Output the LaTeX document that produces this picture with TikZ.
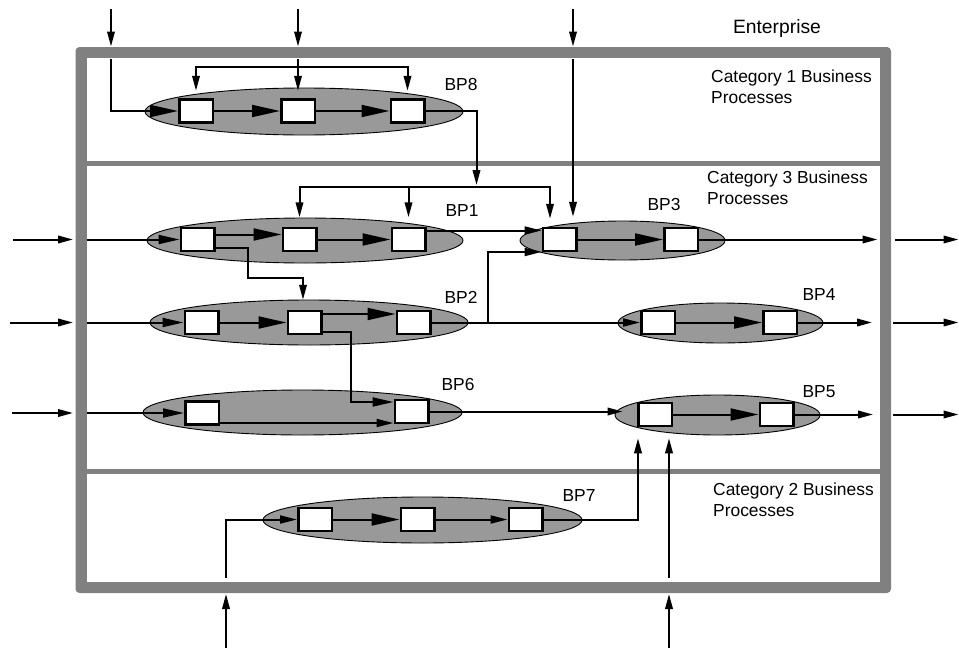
\documentclass[tikz,border=0pt]{standalone}
\usepackage{fontspec}
\setmainfont{Liberation Sans}
\usetikzlibrary{arrows.meta,shapes.geometric,calc}
\definecolor{framegray}{RGB}{128,128,128}
\definecolor{bpfill}{RGB}{153,153,153}
\tikzset{
  bigtip/.tip={Triangle[length=28pt,width=12pt]},
  intip/.tip={Triangle[length=21pt,width=9pt]},
  midtip/.tip={Triangle[length=17pt,width=8pt]},
  smalltip/.tip={Triangle[length=15pt,width=7.5pt]},
  conn/.style={line width=2pt, draw=black},
  bpellipse/.style={ellipse, draw=black, line width=0.9pt, fill=bpfill, inner sep=0pt},
  actbox/.style={rectangle, draw=black, line width=2.5pt, fill=white, minimum width=33.5pt, minimum height=23pt, inner sep=0pt},
  lbl/.style={font=\fontsize{17.4}{21}\selectfont, inner sep=0pt},
  catlbl/.style={lbl, align=left, anchor=north west},
}
\begin{document}
\begin{tikzpicture}[x=1pt,y=-1pt]
\fill[white] (0,0) rectangle (959,648);
\useasboundingbox (0,0) rectangle (959,648);

% enterprise frame and category dividers
\fill[framegray, rounded corners=4pt] (75.5,47) rectangle (891,593);
\fill[white] (86.5,58) rectangle (880,582);
\fill[framegray] (86.5,160.5) rectangle (880,165.5);
\fill[framegray] (86.5,468.5) rectangle (880,474);

% texts
\node[lbl, font=\fontsize{19.3}{23}\selectfont, anchor=base] (enterprise) at (777,33) {Enterprise};
\node[catlbl] (cat1) at (711,69.5) {Category 1 Business\\Processes};
\node[catlbl] (cat3) at (707,170.5) {Category 3 Business\\Processes};
\node[catlbl] (cat2) at (713,482.5) {Category 2 Business\\Processes};

% ellipses
\node[bpellipse, minimum width=318pt, minimum height=47pt] (e8) at (304,111.5) {};
\node[bpellipse, minimum width=316pt, minimum height=45pt] (e1) at (305,240.5) {};
\node[bpellipse, minimum width=318pt, minimum height=45pt] (e2) at (309,322.5) {};
\node[bpellipse, minimum width=319pt, minimum height=45pt] (e6) at (302.5,412.5) {};
\node[bpellipse, minimum width=205pt, minimum height=39pt] (e3) at (622.5,240.5) {};
\node[bpellipse, minimum width=205pt, minimum height=40pt] (e4) at (720.5,323) {};
\node[bpellipse, minimum width=205pt, minimum height=40pt] (e5) at (717.5,415) {};
\node[bpellipse, minimum width=319pt, minimum height=46pt] (e7) at (422.5,520) {};

% BP labels
\node[lbl] (l8) at (461,85) {BP8};
\node[lbl] (l1) at (462,211) {BP1};
\node[lbl] (l2) at (461,297) {BP2};
\node[lbl] (l6) at (458,385) {BP6};
\node[lbl] (l3) at (664,205) {BP3};
\node[lbl] (l4) at (819,295) {BP4};
\node[lbl] (l5) at (819,392) {BP5};
\node[lbl] (l7) at (579,496) {BP7};

% activity boxes
\node[actbox] (b81) at (196,111) {};
\node[actbox] (b82) at (298,111) {};
\node[actbox] (b83) at (407.5,111) {};
\node[actbox] (b11) at (197.5,239.5) {};
\node[actbox] (b12) at (299.5,239.5) {};
\node[actbox] (b13) at (408.5,239.5) {};
\node[actbox] (b21) at (201.5,322.5) {};
\node[actbox] (b22) at (304.5,322.5) {};
\node[actbox] (b23) at (413.5,322.5) {};
\node[actbox] (b61) at (202,413) {};
\node[actbox] (b62) at (411.5,411.5) {};
\node[actbox] (b31) at (559.5,239.5) {};
\node[actbox] (b32) at (681,239.5) {};
\node[actbox] (b41) at (658,322.5) {};
\node[actbox] (b42) at (780,322.5) {};
\node[actbox] (b51) at (655,414.5) {};
\node[actbox] (b52) at (776.5,414.5) {};
\node[actbox] (b71) at (315,519.5) {};
\node[actbox] (b72) at (417.5,519.5) {};
\node[actbox] (b73) at (525.5,519.5) {};

% ---- external inputs at the top
\coordinate (tA0) at (111,9);   \coordinate (tA1) at (111,46.5);
\coordinate (tB0) at (298,9);   \coordinate (tB1) at (298,46.5);
\coordinate (tC0) at (573,9);   \coordinate (tC1) at (573,46.5);
\draw[conn,-smalltip] (tA0) -- (tA1);
\draw[conn,-smalltip] (tB0) -- (tB1);
\draw[conn,-smalltip] (tC0) -- (tC1);
\coordinate (iA) at (111,59);
\coordinate (iB) at (298,59);
\coordinate (iC) at (573,59);

% ---- BP8
\draw[conn,-bigtip] (iA) |- (b81.west);
\draw[conn,-smalltip] (iB) -- ([yshift=7.5pt]b82.north);
\draw[conn,smalltip-smalltip] ([yshift=7.5pt]b81.north) -- ++(0,-24) -| ([yshift=7.5pt]b83.north);
\draw[conn,-bigtip] (b81) -- (b82);
\draw[conn,-bigtip] (b82) -- (b83);
\coordinate (j8) at (476.5,185);
\draw[conn,-smalltip] (b83.east) -| (j8);

% distribution bar into BP1 / BP3
\coordinate (bar) at (476.5,187);
\draw[conn,smalltip-smalltip] ([yshift=9.5pt]b12.north) |- (bar) -| ([xshift=-9.5pt,yshift=8pt]b31.north);
\draw[conn,smalltip-] ([yshift=9.5pt]b13.north) -- ++(0,-31);
\draw[conn,-smalltip] (iC) -- ([xshift=13.5pt,yshift=10pt]b31.north);

% ---- left external inputs
\coordinate (x1a) at (13,239.5);  \coordinate (x1b) at (73,239.5);  \coordinate (n1) at (86.5,239.5);
\coordinate (x2a) at (10,322.5);  \coordinate (x2b) at (73,322.5);  \coordinate (n2) at (86.5,322.5);
\coordinate (x6a) at (12,413);    \coordinate (x6b) at (73,413);    \coordinate (n6) at (86.5,413);
\draw[conn,-smalltip] (x1a) -- (x1b);
\draw[conn,-smalltip] (x2a) -- (x2b);
\draw[conn,-smalltip] (x6a) -- (x6b);
\draw[conn,-intip] (n1) -- (b11.west);
\draw[conn,-intip] (n2) -- (b21.west);
\draw[conn,-intip] (n6) -- (b61.west);

% ---- BP1
\draw[conn,-bigtip] ([yshift=5pt]b11.east) -- ([yshift=5pt]b11.east -| b12.west);
\draw[conn,-smalltip] ([yshift=-8pt]b11.east) -| (248,278) -| ([xshift=-1.5pt,yshift=10pt]b22.north);
\draw[conn,-bigtip] (b12) -- (b13);
\draw[conn,-midtip] ([yshift=9pt]b13.east) -- ([yshift=9pt]b13.east -| b31.west);

% ---- BP2
\draw[conn,-bigtip] (b21) -- (b22);
\draw[conn,-bigtip] ([yshift=8.5pt]b22.east) -- ([yshift=8.5pt]b22.east -| b23.west);
\draw[conn,-intip] ([yshift=-9.5pt]b22.east) -- ++(28,0) |- ([yshift=9.5pt]b62.west);
\draw[conn,-midtip] (b23.east) -- (b41.west);
\coordinate (br2) at (488,322.5);
\draw[conn,-midtip] (br2) |- ([yshift=-12.5pt]b31.west);

% ---- BP6
\draw[conn,-midtip] ([yshift=-10pt]b61.east) -- ([yshift=-10pt]b61.east -| b62.west);
\path ([xshift=8pt]e5.west) coordinate (e5in);
\draw[conn,-smalltip] (b62.east) -- (b62.east -| e5in);

% ---- BP3, BP4, BP5 and outputs
\draw[conn,-bigtip] (b31) -- (b32);
\draw[conn,-bigtip] (b41) -- (b42);
\draw[conn,-bigtip] (b51) -- (b52);
\coordinate (o3) at (877.5,239.5); \coordinate (o3a) at (895,239.5); \coordinate (o3b) at (958.5,239.5);
\coordinate (o4) at (872,322.5);   \coordinate (o4a) at (893,322.5); \coordinate (o4b) at (958.5,322.5);
\coordinate (o5) at (873,414.5);   \coordinate (o5a) at (893,414.5); \coordinate (o5b) at (958.5,414.5);
\draw[conn,-smalltip] (b32.east) -- (o3);
\draw[conn,-smalltip] (b42.east) -- (o4);
\draw[conn,-smalltip] (b52.east) -- (o5);
\draw[conn,-smalltip] (o3a) -- (o3b);
\draw[conn,-smalltip] (o4a) -- (o4b);
\draw[conn,-smalltip] (o5a) -- (o5b);

% ---- BP7 and inputs from below
\coordinate (u1a) at (226,647.5); \coordinate (u1b) at (226,594); \coordinate (m1) at (226,578);
\coordinate (u2a) at (669,647.5); \coordinate (u2b) at (669,594); \coordinate (m2) at (669,578);
\draw[conn,-smalltip] (u1a) -- (u1b);
\draw[conn,-smalltip] (u2a) -- (u2b);
\draw[conn,-midtip] (m1) |- (b71.west);
\draw[conn,-bigtip] (b71) -- (b72);
\draw[conn,-midtip] (b72) -- (b73);
\draw[conn,-smalltip] (b73.east) -| ([xshift=-17pt,yshift=-11pt]b51.south);
\draw[conn,-smalltip] (m2) -- ([xshift=14pt,yshift=-11pt]b51.south);
\end{tikzpicture}
\end{document}
